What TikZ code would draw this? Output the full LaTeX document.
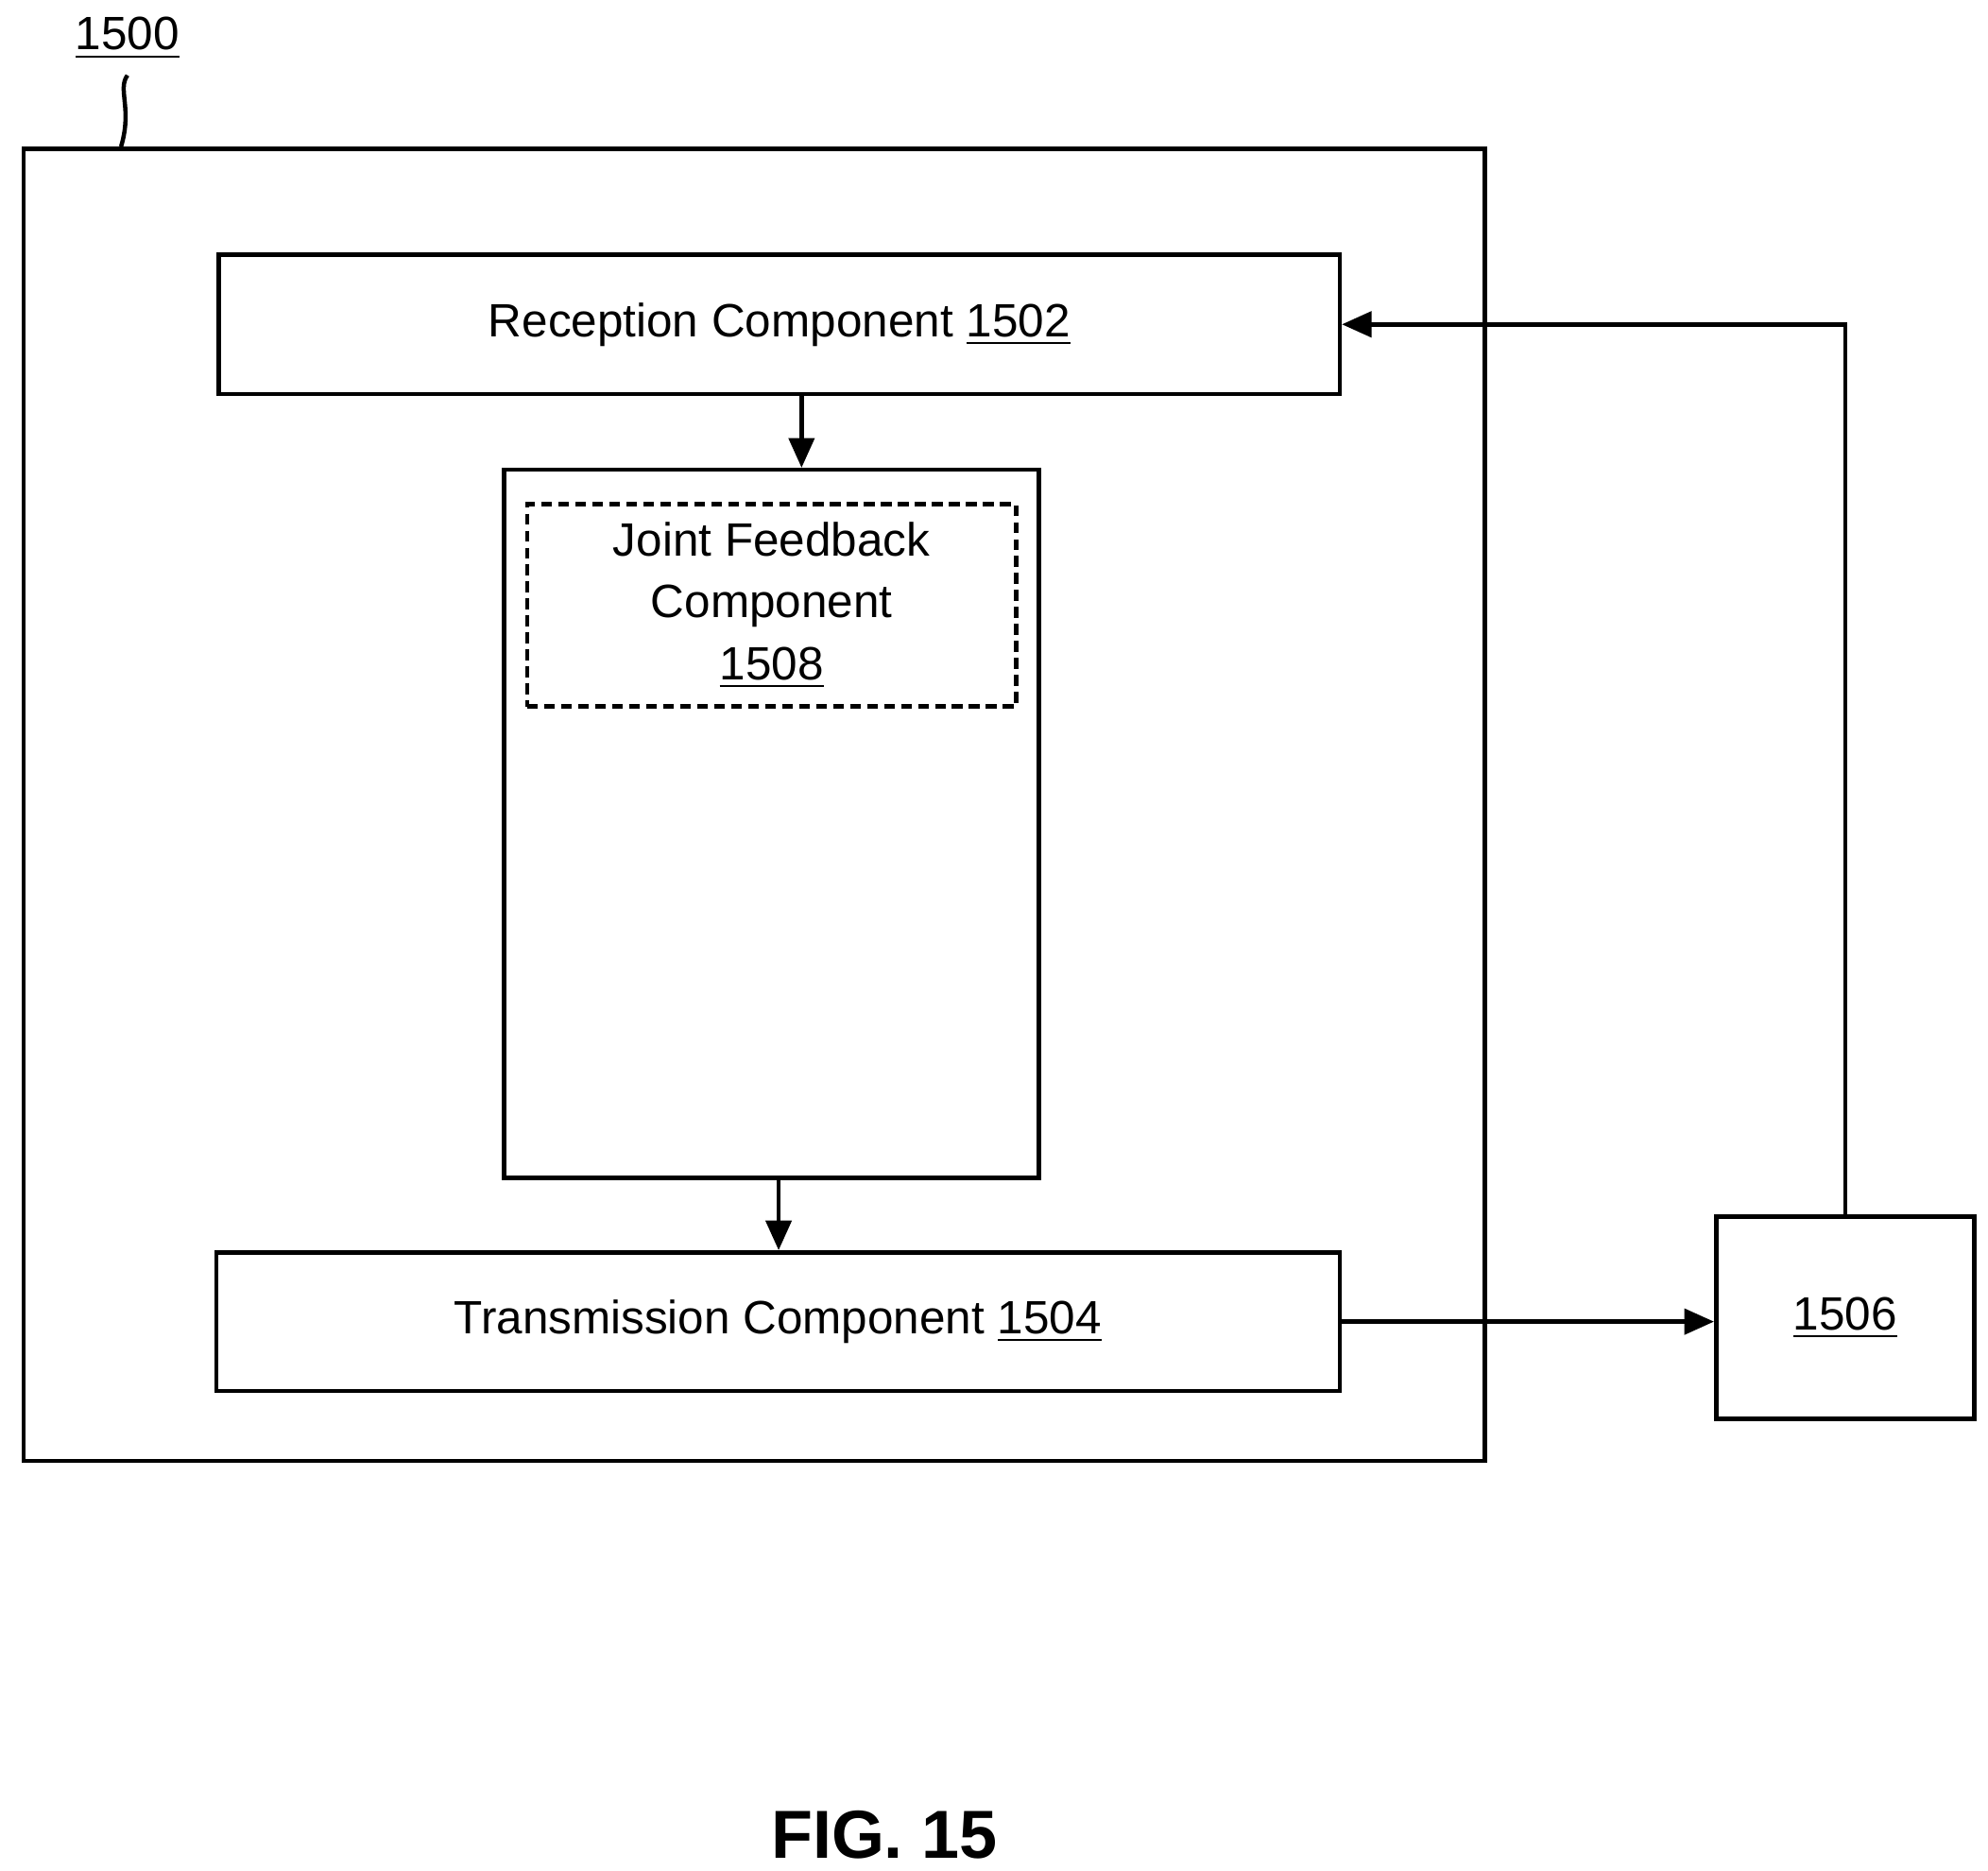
\documentclass[tikz,border=0pt]{standalone}
\usepackage{fontspec}
\setmainfont{Liberation Sans}
\usetikzlibrary{arrows.meta}
\tikzset{every picture/.style={line width=1pt}}
\tikzset{
  box/.style={draw, rectangle, inner sep=0pt, font=\fontsize{11}{14.5}\selectfont, align=center},
  arr/.style={-{Triangle[length=7pt,width=6pt]}}
}
\begin{document}
\begin{tikzpicture}[x=0.3pt,y=0.3pt,yscale=-1,xscale=1]
	\useasboundingbox (0,0) rectangle (1560,1468);

	%Shape: Rectangle [outer]
	\node[box, minimum width=344pt, minimum height=308.9pt] (outer) at (592,631.5) {};
	% Text Node
	\node[font=\fontsize{11}{14}\selectfont] (lab1500) at (100,30) {\underline{1500}};
	%Curve Lines
	\draw (lab1500.south) .. controls (92,70) and (104,85) .. (95,115);

	%Shape: Rectangle [reception]
	\node[box, minimum width=263.9pt, minimum height=32.9pt] (rx) at (611.5,254.5) {Reception Component \underline{1502}};
	%Shape: Rectangle [middle]
	\node[box, minimum width=125.9pt, minimum height=166.7pt] (mid) at (605.5,646.5) {};
	%Shape: Rectangle [joint feedback]
	\node[box, dash pattern={on 2.5pt off 1.5pt}, minimum width=115.1pt, minimum height=47.6pt] (jfb) at (605.5,475) {Joint Feedback\\Component\\\underline{1508}};
	%Shape: Rectangle [transmission]
	\node[box, minimum width=264.5pt, minimum height=32.6pt] (tx) at (610.5,1037) {Transmission Component \underline{1504}};
	%Shape: Rectangle [1506]
	\node[box, minimum width=60.8pt, minimum height=47.6pt] (dev) at (1448,1034) {\underline{1506}};

	%Straight Lines
	\draw[arr] (rx.south -| 629,0) -- (mid.north -| 629,0);
	\draw[arr] (mid.south -| 611,0) -- (tx.north -| 611,0);
	\draw[arr] (tx.east) -- (tx.east -| dev.west);
	\draw[arr] (dev.north) |- (rx.east);

	% Text Node
	\node[font=\bfseries\fontsize{16}{19}\selectfont] (fig) at (694,1440) {FIG. 15};
\end{tikzpicture}
\end{document}
